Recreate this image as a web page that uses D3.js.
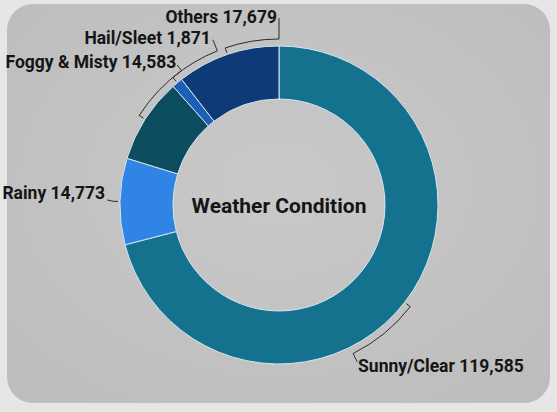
<!DOCTYPE html>
<html><head><meta charset="utf-8">
<script src="https://cdn.jsdelivr.net/npm/d3@7"></script>
<style>
html,body{margin:0;padding:0;background:#e6e6e6;}
svg{display:block;}
</style></head><body>
<svg id="chart" width="557" height="412"></svg>
<script>
const categories = ["Sunny/Clear", "Rainy", "Foggy & Misty", "Hail/Sleet", "Others"];
const values = [119585, 14773, 14583, 1871, 17679];
const colors = ["#14728f", "#2f84e4", "#0b4c5f", "#1c60b6", "#0e3b78"];
const centerTitle = "Weather Condition";

// label layout (degrees clockwise from top, radius, text offsets)
const labelLayout = {
  "Sunny/Clear":   {angle: 153.5, r: 175, anchor: "start", dx: 1,  dy: 6},
  "Rainy":         {angle: 271.7, r: 172, anchor: "end",   dx: -2, dy: -6},
  "Foggy & Misty": {angle: 324,   r: 173, anchor: "end",   dx: -1, dy: -2},
  "Hail/Sleet":    {angle: 338.2, r: 178, anchor: "end",   dx: -2, dy: 0},
  "Others":        {angle: 360,   r: 187, anchor: "end",   dx: -2, dy: 0}
};

const W = 557, H = 412;
const cx = 279, cy = 205, R = 159, r0 = 106, rb = 166;
const svg = d3.select("#chart");

const defs = svg.append("defs");
const grad = defs.append("radialGradient").attr("id", "bg").attr("cx", "50%").attr("cy", "45%").attr("r", "70%");
grad.append("stop").attr("offset", "0%").attr("stop-color", "#c9c9c9");
grad.append("stop").attr("offset", "100%").attr("stop-color", "#bdbdbd");

svg.append("rect").attr("width", W).attr("height", H).attr("fill", "#e6e6e6");
svg.append("rect").attr("x", 7).attr("y", 4).attr("width", 543).attr("height", 399)
  .attr("rx", 26).attr("fill", "url(#bg)");

const data = categories.map((c, i) => ({cat: c, value: values[i], color: colors[i]}));
const pie = d3.pie().value(d => d.value).sort(null);
const arcs = pie(data);
const arc = d3.arc().innerRadius(r0).outerRadius(R);

const g = svg.append("g").attr("transform", `translate(${cx},${cy})`);
g.selectAll("path.slice").data(arcs).join("path")
  .attr("class", "slice")
  .attr("d", arc)
  .attr("fill", d => d.data.color)
  .attr("stroke", "#d6e4f2")
  .attr("stroke-width", 1);

const rad = a => a * Math.PI / 180;
const pt = (a, rr) => [rr * Math.sin(a), -rr * Math.cos(a)];

arcs.forEach(d => {
  const L = labelLayout[d.data.cat];
  const mid = (d.startAngle + d.endAngle) / 2;
  const la = rad(L.angle);
  const p = d3.path();
  const t0 = pt(mid, R + 2);
  p.moveTo(t0[0], t0[1]);
  const t1 = pt(mid, rb);
  p.lineTo(t1[0], t1[1]);
  if (Math.abs(la - mid) > 0.01) {
    p.arc(0, 0, rb, mid - Math.PI / 2, la - Math.PI / 2, la < mid);
  }
  const lp = pt(la, L.r);
  p.lineTo(lp[0], lp[1]);
  g.append("path").attr("d", p.toString())
    .attr("fill", "none").attr("stroke", "#2a2a2a").attr("stroke-width", 1);
  g.append("text")
    .attr("x", lp[0] + L.dx).attr("y", lp[1] + L.dy)
    .attr("text-anchor", L.anchor)
    .attr("dominant-baseline", "middle")
    .attr("font-family", "Roboto, 'Open Sans', sans-serif")
    .attr("font-weight", 700)
    .attr("font-size", 17.5)
    .attr("fill", "#151515")
    .text(`${d.data.cat} ${d3.format(",")(d.data.value)}`);
});

g.append("text")
  .attr("x", 0).attr("y", 2)
  .attr("text-anchor", "middle").attr("dominant-baseline", "middle")
  .attr("font-family", "Roboto, 'Open Sans', sans-serif")
  .attr("font-weight", 700).attr("font-size", 21)
  .attr("fill", "#151515")
  .text(centerTitle);
</script>
</body></html>
